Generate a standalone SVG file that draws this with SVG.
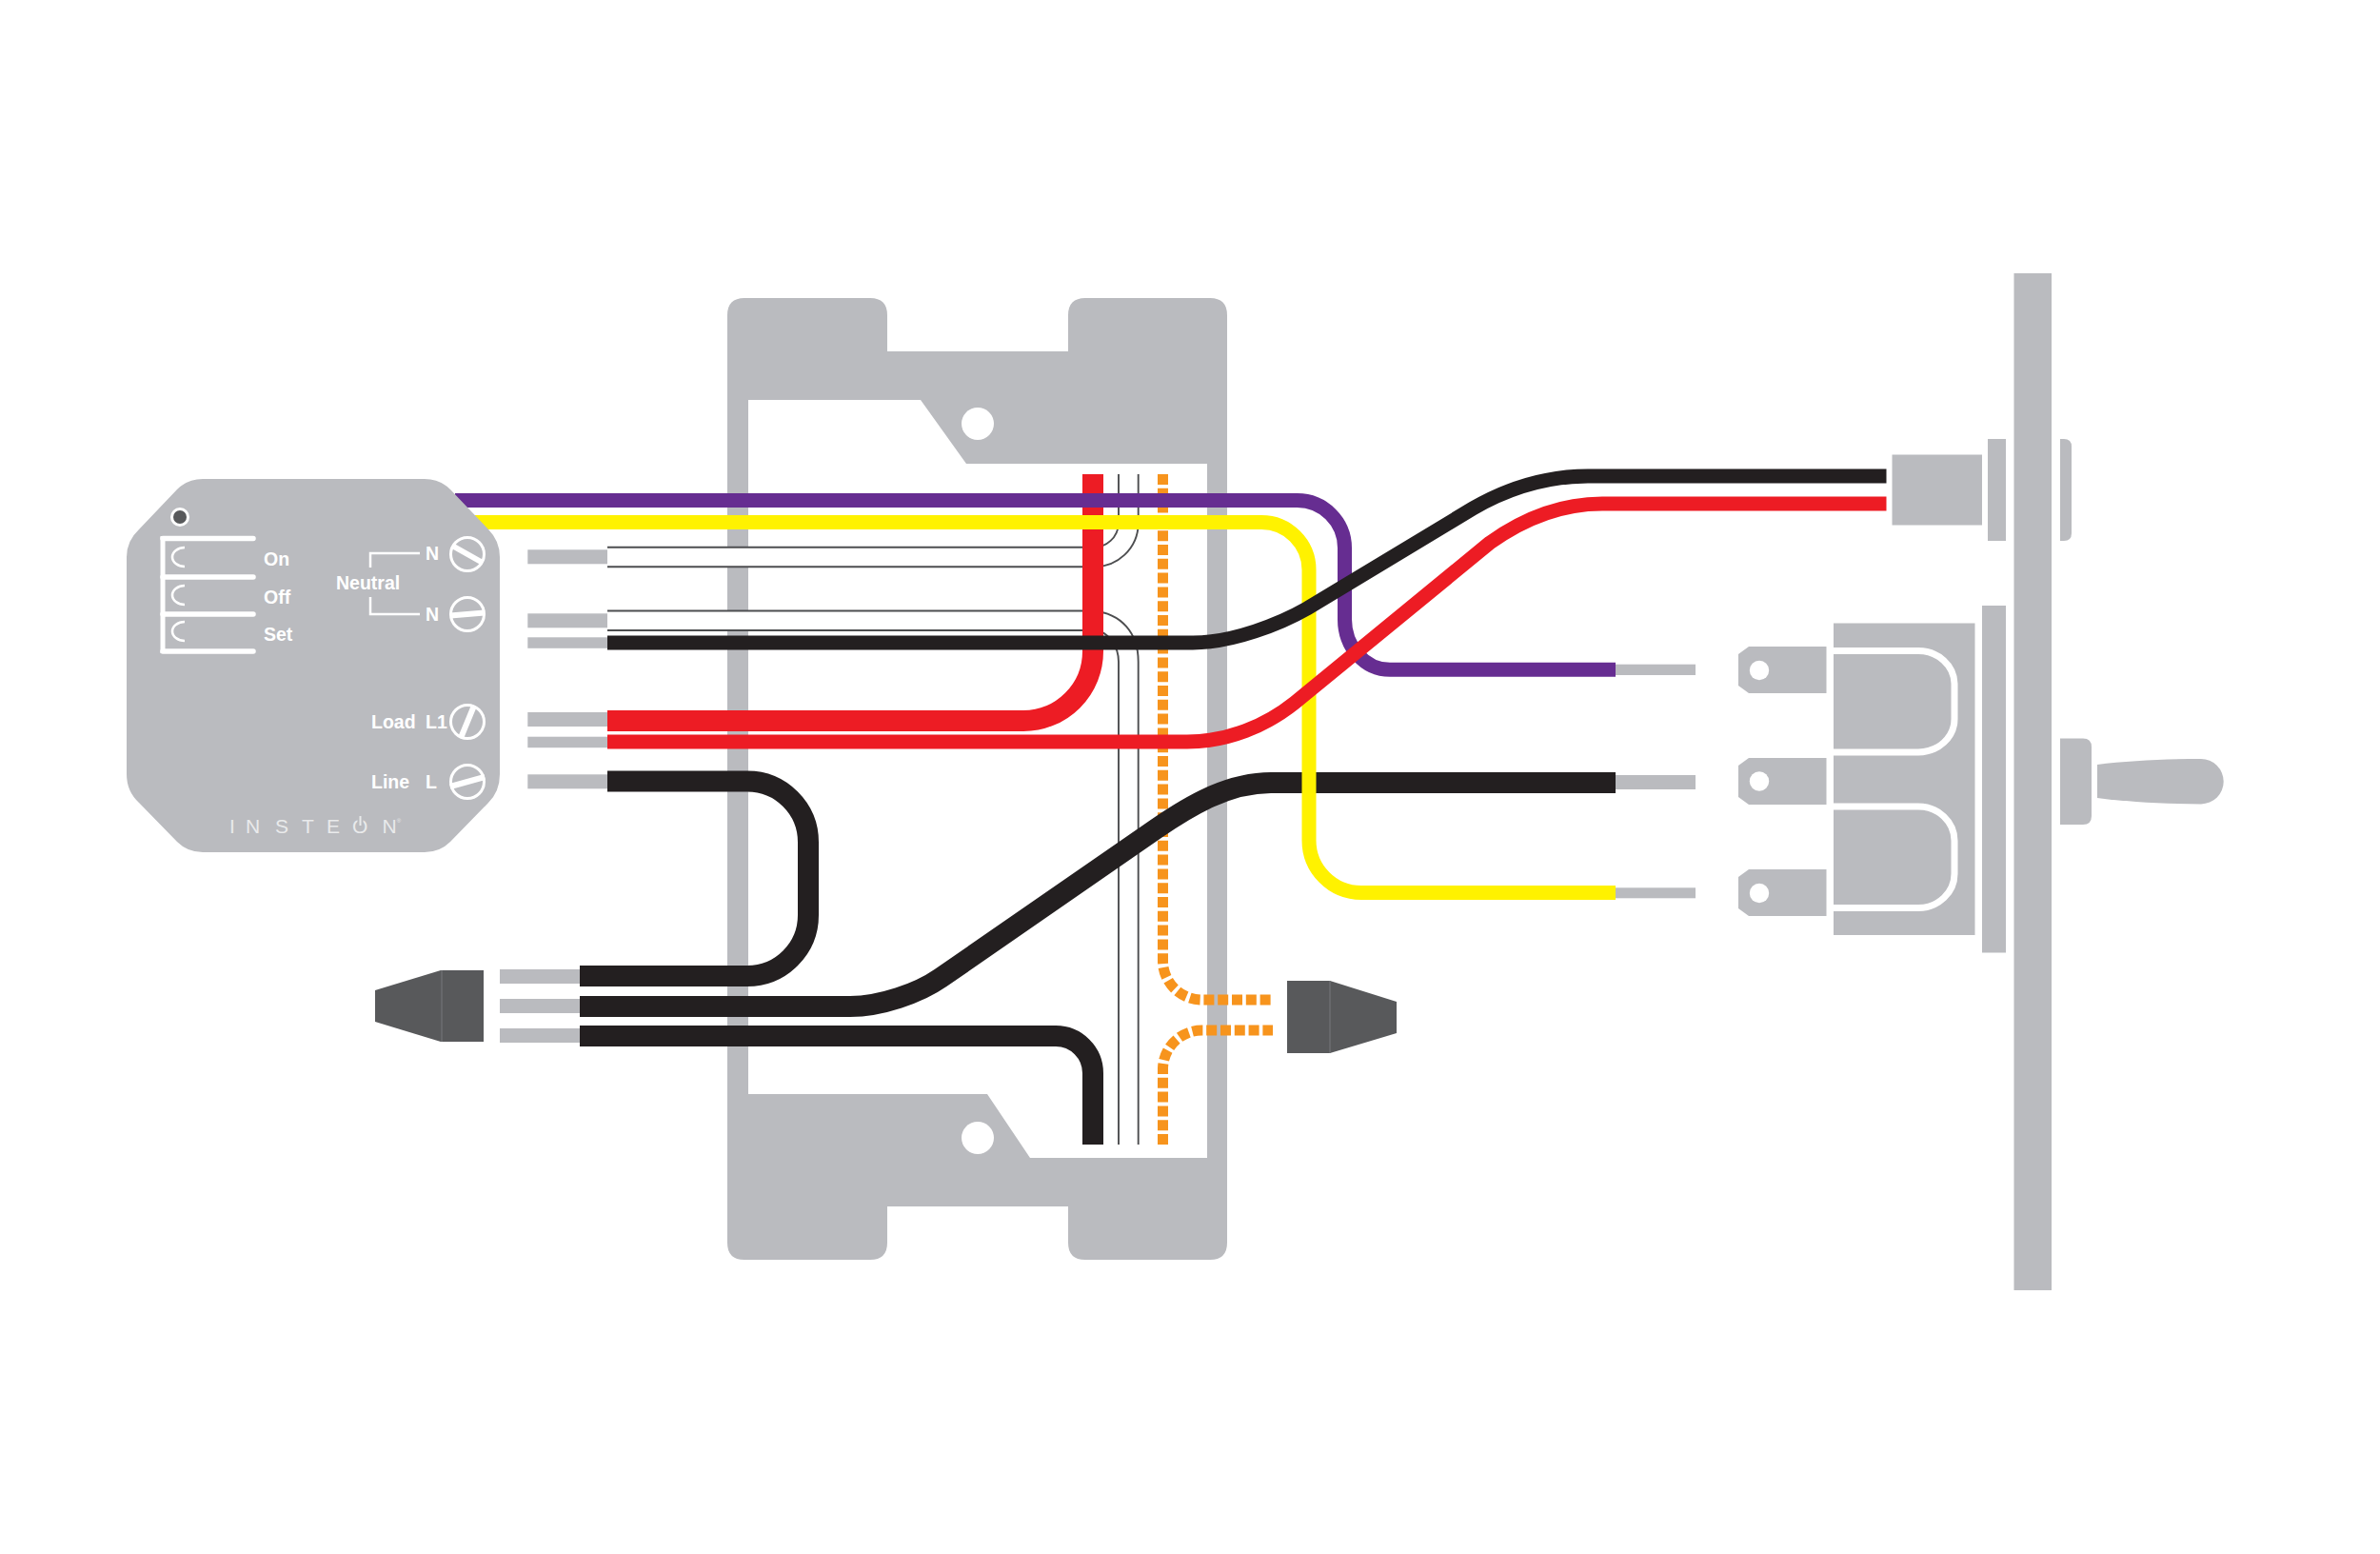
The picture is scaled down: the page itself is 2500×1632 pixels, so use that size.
<svg xmlns="http://www.w3.org/2000/svg" width="2500" height="1632" viewBox="0 0 2500 1632">
<style>
.g{fill:#babbbf}
.d{fill:#58595b}
.thinf{fill:#fff}
.thinl{fill:none;stroke:#4d4e50;stroke-width:1.9}
.stub{fill:#babbbf}
.blk{stroke:#231f20}.red{stroke:#ed1c24}.pur{stroke:#662d91}.yel{stroke:#fff200}
.s22{stroke-width:22;fill:none}.s15{stroke-width:15;fill:none}
.org{stroke:#f7941d;stroke-width:11;fill:none;stroke-dasharray:11 3.8}
.wl{fill:none;stroke:#fff}
.t{font-family:"Liberation Sans",Arial,sans-serif;font-weight:bold;font-size:19.5px;fill:#fff}
.logo{font-family:"Liberation Sans",Arial,sans-serif;font-size:21px;fill:#e9eaeb}
</style>
<rect width="2500" height="1632" fill="#fff"/>
<g id="junction-box">
<path class="g" fill-rule="evenodd" d="M782,313H914Q932,313 932,331V369H1122V331Q1122,313 1140,313H1271Q1289,313 1289,331V1305Q1289,1323 1271,1323H1140Q1122,1323 1122,1305V1267H932V1305Q932,1323 914,1323H782Q764,1323 764,1305V331Q764,313 782,313ZM786,420H967L1015,487H1268V1216H1082L1037,1149H786Z"/>
<circle cx="1027" cy="445" r="17" fill="#fff"/>
<circle cx="1027" cy="1195" r="17" fill="#fff"/>
</g>
<g id="switch">
<rect class="g" x="2115.500" y="287" width="39.500" height="1068"/>
<rect class="g" x="1987.500" y="477.500" width="94.500" height="74"/>
<rect class="g" x="2088" y="461" width="19" height="107"/>
<path class="g" d="M2164,461H2168Q2176,461 2176,469V560Q2176,568 2168,568H2164Z"/>
<rect class="g" x="2082" y="636" width="25" height="364.500"/>
<rect class="g" x="1926" y="654.500" width="148.500" height="327.500"/>
<path class="wl" stroke-width="7" d="M1926,683.500H2015A38,35 0 0 1 2053,718V755A38,35 0 0 1 2015,790H1926"/>
<path class="wl" stroke-width="7" d="M1926,847H2015A38,36 0 0 1 2053,883V917A38,36 0 0 1 2015,953.500H1926"/>
<path class="g" d="M1837,679H1918.500V728H1837L1826,720V687Z"/>
<path class="g" d="M1837,796H1918.500V845H1837L1826,837V804Z"/>
<path class="g" d="M1837,913H1918.500V962H1837L1826,954V921Z"/>
<circle cx="1848" cy="704" r="10.200" fill="#fff"/>
<circle cx="1848" cy="820.500" r="10.200" fill="#fff"/>
<circle cx="1848" cy="938" r="10.200" fill="#fff"/>
<path class="g" d="M2164,775.500H2188Q2197,775.500 2197,784.500V857Q2197,866 2188,866H2164Z"/>
<path class="g" d="M2203,803C2235,799 2275,797 2312,797A23.700,23.700 0 0 1 2312,844.400C2275,844.400 2235,842 2203,838Z"/>
</g>
<g id="plug-left">
<path class="d" d="M394,1040L463,1019H508V1094H463L394,1073Z"/>
<path d="M464,1019V1094" stroke="#6d6e71" stroke-width="1.500" fill="none"/>
</g>
<g id="plug-right">
<path class="d" d="M1352,1030H1397L1467,1052V1085L1397,1106H1352Z"/>
<path d="M1397,1030V1106" stroke="#6d6e71" stroke-width="1.500" fill="none"/>
</g>
<g id="connectors">
<rect class="stub" x="554.300" y="577.300" width="84" height="15"/>
<rect class="stub" x="554.300" y="644.300" width="84" height="15"/>
<rect class="stub" x="554.300" y="669.300" width="84" height="11.500"/>
<rect class="stub" x="554.300" y="748" width="84" height="15"/>
<rect class="stub" x="554.300" y="773.700" width="84" height="11.500"/>
<rect class="stub" x="554.300" y="813.300" width="84" height="15"/>
<rect class="stub" x="525" y="1018" width="84" height="15"/>
<rect class="stub" x="525" y="1049" width="84" height="15"/>
<rect class="stub" x="525" y="1080" width="84" height="15"/>
<rect class="stub" x="1697" y="697.700" width="84" height="11.300"/>
<rect class="stub" x="1697" y="814" width="84" height="15"/>
<rect class="stub" x="1697" y="932.300" width="84" height="11"/>
<path class="thinf" d="M638,574.700H1148A26,26 0 0 0 1175,550V498H1195.700V550A46,46 0 0 1 1148,595.200H638Z"/>
<path class="thinf" d="M638,641.500H1148C1178,644 1195.700,665 1195.700,695V1202H1175V695C1175,680 1165,662 1148,662H638Z"/>
<path class="thinl" d="M638,574.700H1148A26,26 0 0 0 1175,550V498M1195.700,498V550A46,46 0 0 1 1148,595.200H638"/>
<path class="thinl" d="M638,641.500H1148C1178,644 1195.700,665 1195.700,695V1202M1175,1202V695C1175,680 1165,662 1148,662H638"/>
<path class="org" d="M1221.500,498V1008A41,41 0 0 0 1262.500,1050H1337"/>
<path class="org" d="M1221.500,1202V1122A41,41 0 0 1 1262.500,1082H1337"/>
<path class="red s22" d="M1148,498V684A73,73 0 0 1 1075,757H638"/>
<path class="pur s15" d="M478,525.500H1362A50,50 0 0 1 1412.500,575.500V650A47.500,53 0 0 0 1460,703.300H1697"/>
<path class="blk s22" d="M609,1057H893C925,1057 965,1043 988,1027L1215,870C1250,846 1290,822 1335,822H1697"/>
<path class="yel s15" d="M488,548.500H1325A50,50 0 0 1 1375,598.500V882A55,55 0 0 0 1430,937.500H1697"/>
<path class="blk s15" d="M638,675H1253C1295,675 1345,655 1373,639L1547,534C1585,512 1625,500 1668,500H1981.500"/>
<path class="red s15" d="M638,779H1247C1290,779 1330,762 1360,738L1565,570C1600,545 1640,529 1683,529H1981.500"/>
<path class="blk s22" d="M638,820.500H785A64,64 0 0 1 849,884.500V961A64,64 0 0 1 785,1025H609"/>
<path class="blk s22" d="M609,1088H1109A39,39 0 0 1 1148,1127V1202"/>
</g>
<g id="module">
<path class="g" d="M213,503H446Q462,503 473,514L513,556Q525,568 525,585V813Q525,831 513,843L473,884Q462,895 446,895H213Q197,895 186,884L146,843Q133,831 133,813V585Q133,568 146,556L186,514Q197,503 213,503Z"/>
<circle cx="189" cy="543" r="10" fill="#fff"/>
<circle cx="189" cy="543" r="7" class="d"/>
<path class="wl" stroke-width="5" d="M171,686V563"/>
<path class="wl" stroke-width="5.500" stroke-linecap="round" d="M171,565.500H266M171,606H266M171,645H266M171,684H266"/>
<path class="wl" stroke-width="2.600" d="M194,575A13,10 0 0 0 194,595M194,615A13,10 0 0 0 194,635M194,653A13,10 0 0 0 194,673"/>
<text class="t" x="277" y="594">On</text>
<text class="t" x="277" y="634">Off</text>
<text class="t" x="277" y="673">Set</text>
<text class="t" x="353" y="619">Neutral</text>
<text class="t" x="447" y="588">N</text>
<text class="t" x="447" y="652">N</text>
<path class="wl" stroke-width="2.500" d="M389,596V581H441M389,627V645H441"/>
<text class="t" x="390" y="765">Load</text>
<text class="t" x="447" y="765">L1</text>
<text class="t" x="390" y="828">Line</text>
<text class="t" x="447" y="828">L</text>
<g class="wl" stroke-width="3">
<circle cx="491" cy="582" r="17.500"/>
<circle cx="491" cy="645" r="17.500"/>
<circle cx="491" cy="758" r="17.500"/>
<circle cx="491" cy="821" r="17.500"/>
</g>
<g class="wl" stroke-width="6">
<path d="M475,573L507,591"/>
<path d="M473,646.500L509,643.500"/>
<path d="M484,775L498,741"/>
<path d="M473,826L509,816"/>
</g>
<text class="logo" x="241 258 289 317 343 370 401.500" y="875">INSTEON<tspan font-size="6" dy="-11">®</tspan></text>
<path d="M378.500,857V867" stroke="#babbbf" stroke-width="6" fill="none"/>
<path d="M378.500,857V867" stroke="#e9eaeb" stroke-width="2" fill="none"/>
</g>
</svg>
